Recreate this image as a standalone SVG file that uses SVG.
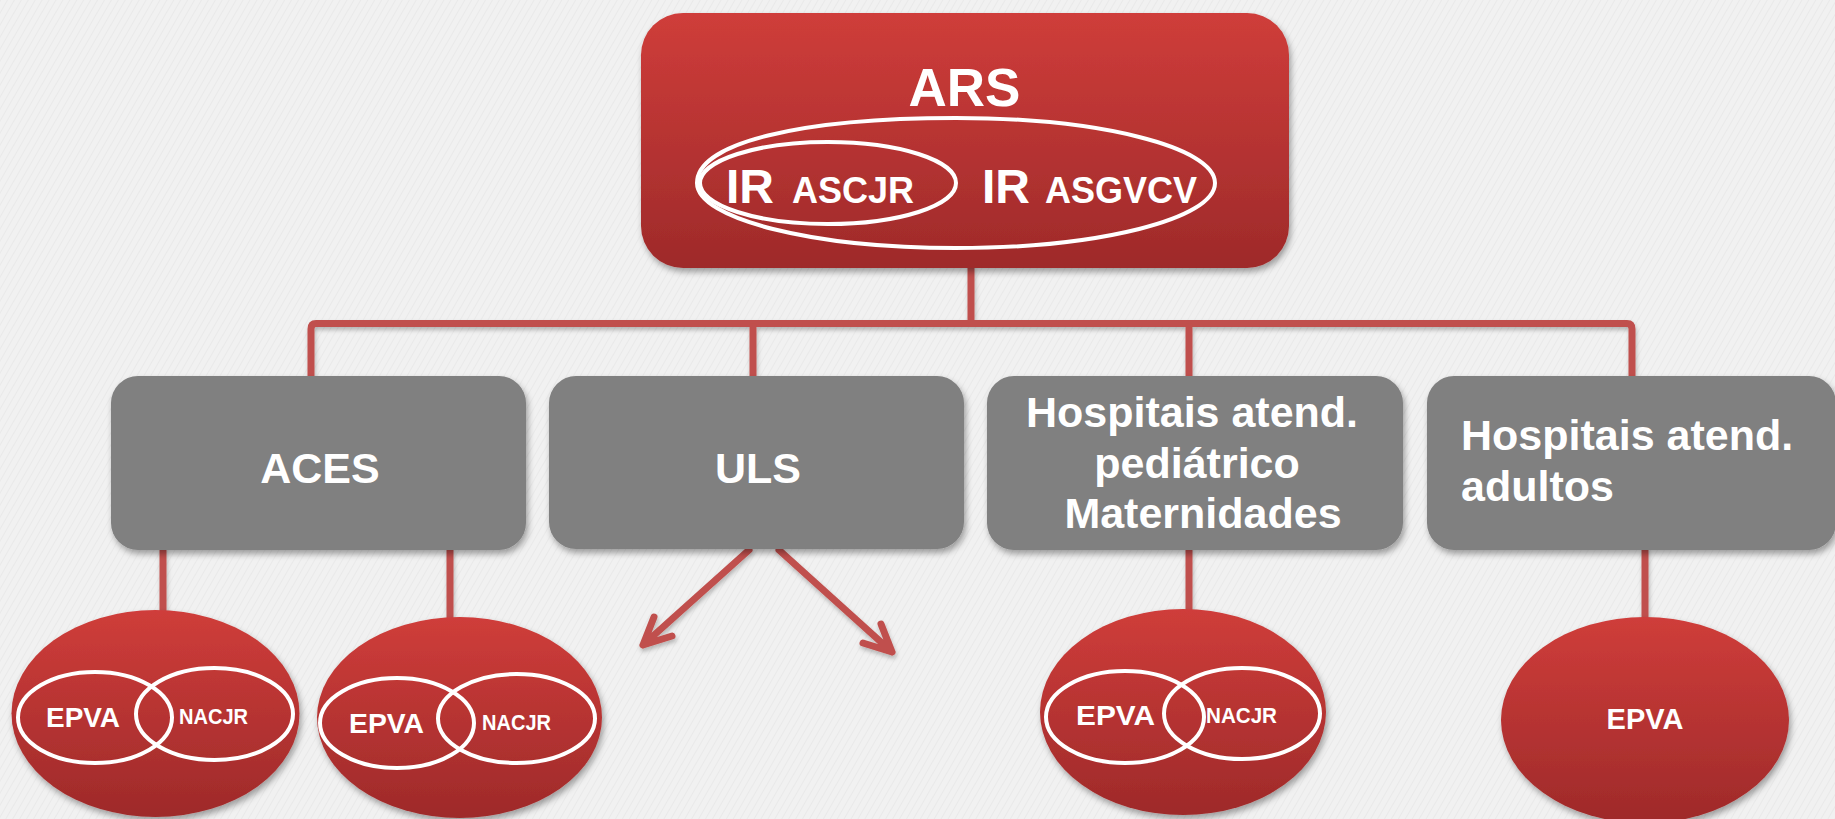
<svg xmlns="http://www.w3.org/2000/svg" width="1835" height="819" viewBox="0 0 1835 819">
<defs>
  <linearGradient id="redGrad" x1="0" y1="0" x2="0" y2="1">
    <stop offset="0" stop-color="#cf3d3a"/>
    <stop offset="1" stop-color="#9e2a2a"/>
  </linearGradient>
  <pattern id="paper" width="6" height="6" patternUnits="userSpaceOnUse" patternTransform="rotate(30)">
    <rect width="6" height="6" fill="#f1f1f1"/>
    <line x1="0" y1="0" x2="0" y2="6" stroke="#e7e7e7" stroke-width="1.5"/>
  </pattern>
  <filter id="shadow" x="-10%" y="-10%" width="130%" height="130%">
    <feDropShadow dx="2" dy="4" stdDeviation="3" flood-color="#000" flood-opacity="0.35"/>
  </filter>
  <filter id="lshadow" x="-20%" y="-20%" width="140%" height="140%">
    <feDropShadow dx="1" dy="3" stdDeviation="2" flood-color="#000" flood-opacity="0.25"/>
  </filter>
</defs>
<style>
  .red{fill:url(#redGrad)}
  .gray{fill:#808080}
  .ring{fill:none;stroke:#ffffff;stroke-width:4}
  .conn{fill:none;stroke:#c0504d;stroke-width:7;stroke-linecap:butt;stroke-linejoin:round}
  .arrow{fill:none;stroke:#c0504d;stroke-width:7;stroke-linecap:round;stroke-linejoin:round}
  .t{font-family:"Liberation Sans",Arial,Helvetica,sans-serif;font-weight:bold;fill:#ffffff}
</style>
<rect width="1835" height="819" fill="url(#paper)"/>

<g id="connectors" filter="url(#lshadow)">
  <path class="conn" d="M971,266 V323.5"/>
  <path class="conn" d="M311,378 V329 Q311,323.5 316,323.5 H1627 Q1632,323.5 1632,329 V378"/>
  <path class="conn" d="M753,323.5 V378"/>
  <path class="conn" d="M1189,323.5 V378"/>
  <path class="conn" d="M163,548 V614"/>
  <path class="conn" d="M450,548 V620"/>
  <path class="conn" d="M1189,548 V612"/>
  <path class="conn" d="M1645,548 V620"/>
  <path class="arrow" d="M749,550 L643,645 M654,617 L643,645 L672,636"/>
  <path class="arrow" d="M779,550 L892,652 M881,624 L892,652 L863,643"/>
</g>

<g id="node-ars">
  <rect class="red" x="641" y="13" width="648" height="255" rx="42" filter="url(#shadow)"/>
  <text class="t" x="964.5" y="106" font-size="53" text-anchor="middle">ARS</text>
  <path class="ring" d="M697,183 C697,143 800,118 956,118 C1099,118 1215,147 1215,183 C1215,219 1099,248 956,248 C813,248 697,219 697,183 Z"/>
  <ellipse class="ring" cx="828" cy="183" rx="128" ry="41"/>
  <text class="t" y="203"><tspan x="726" font-size="48">IR</tspan><tspan x="792" font-size="36">ASCJR</tspan></text>
  <text class="t" y="203"><tspan x="982" font-size="48">IR</tspan><tspan x="1045" font-size="36">ASGVCV</tspan></text>
</g>

<g id="node-aces">
  <rect class="gray" x="111" y="376" width="415" height="174" rx="27" filter="url(#shadow)"/>
  <text class="t" x="320" y="483" font-size="43" text-anchor="middle">ACES</text>
</g>

<g id="node-uls">
  <rect class="gray" x="549" y="376" width="415" height="173" rx="27" filter="url(#shadow)"/>
  <text class="t" x="758" y="483" font-size="43" text-anchor="middle">ULS</text>
</g>

<g id="node-hosp-ped">
  <rect class="gray" x="987" y="376" width="416" height="174" rx="27" filter="url(#shadow)"/>
  <text class="t" font-size="43" text-anchor="middle">
    <tspan x="1198" y="427">Hospitais atend.</tspan>
    <tspan x="1203" y="478">pediátrico</tspan>
    <tspan x="1203" y="528">Maternidades</tspan>
  </text>
</g>

<g id="node-hosp-adult">
  <rect class="gray" x="1427" y="376" width="409" height="174" rx="27" filter="url(#shadow)"/>
  <text class="t" font-size="43">
    <tspan x="1461" y="450">Hospitais atend.</tspan>
    <tspan x="1461" y="501">adultos</tspan>
  </text>
</g>

<g id="node-circle-1">
  <ellipse class="red" cx="155.5" cy="713.5" rx="144" ry="103.5" filter="url(#shadow)"/>
  <ellipse class="ring" cx="95" cy="717.5" rx="77" ry="45.5"/>
  <ellipse class="ring" cx="214.5" cy="714" rx="78.5" ry="46"/>
  <text class="t" x="46" y="727" font-size="28" textLength="74" lengthAdjust="spacingAndGlyphs">EPVA</text>
  <text class="t" x="179" y="724" font-size="22" textLength="69" lengthAdjust="spacingAndGlyphs">NACJR</text>
</g>

<g id="node-circle-2">
  <ellipse class="red" cx="459.5" cy="717.5" rx="142.5" ry="100.5" filter="url(#shadow)"/>
  <ellipse class="ring" cx="397" cy="723" rx="77" ry="45"/>
  <ellipse class="ring" cx="516.5" cy="718.5" rx="78.5" ry="44.5"/>
  <text class="t" x="349" y="733" font-size="28" textLength="75" lengthAdjust="spacingAndGlyphs">EPVA</text>
  <text class="t" x="482" y="730" font-size="22" textLength="69" lengthAdjust="spacingAndGlyphs">NACJR</text>
</g>

<g id="node-circle-3">
  <ellipse class="red" cx="1183" cy="712" rx="143" ry="103" filter="url(#shadow)"/>
  <ellipse class="ring" cx="1125" cy="717" rx="79" ry="46"/>
  <ellipse class="ring" cx="1242" cy="713.5" rx="78" ry="45.5"/>
  <text class="t" x="1076" y="725" font-size="28" textLength="79" lengthAdjust="spacingAndGlyphs">EPVA</text>
  <text class="t" x="1206" y="723" font-size="22" textLength="71" lengthAdjust="spacingAndGlyphs">NACJR</text>
</g>

<g id="node-circle-4">
  <ellipse class="red" cx="1645" cy="720" rx="144" ry="103" filter="url(#shadow)"/>
  <text class="t" x="1645" y="729" font-size="29" text-anchor="middle">EPVA</text>
</g>
</svg>
